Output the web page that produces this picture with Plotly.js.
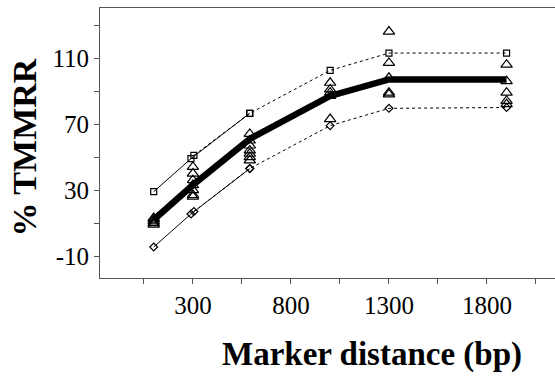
<!DOCTYPE html>
<html><head><meta charset="utf-8">
<script src="https://cdn.plot.ly/plotly-3.0.1.min.js"></script>
<style>html,body{margin:0;padding:0;background:#fff}#chart{width:555px;height:379px}</style>
</head><body><div id="chart"></div>
<script>
// Marker distance (bp)
const meanX = [100, 300, 590, 1000, 1300, 1900];
const meanY = [12, 33, 61, 87, 97, 97];

const upperSolidX = [100, 290, 590];
const upperSolidY = [29, 49, 76.5];
const upperDotX = [305, 590, 1000, 1300, 1900];
const upperDotY = [51, 76.5, 102.5, 113, 113];

const lowerSolidX = [100, 290, 590];
const lowerSolidY = [-4.5, 15.5, 43];
const lowerDotX = [305, 590, 1000, 1300, 1900];
const lowerDotY = [17, 43, 69, 79.5, 80];

const triX = [100,100,100,100,100,
  300,300,300,300,300,300,300,
  590,590,590,590,590,590,590,
  1000,1000,1000,1000,1000,
  1300,1300,1300,1300,1300,
  1900,1900,1900,1900,1900];
const triY = [13,12,11,10,9,
  44,40,36,33,30,27,26,
  64,60,57,54,52,50,48,
  95,91,89,87,73,
  126,107,98,89,88,
  106,96,89,84,82];

const xTickVals = [50, 300, 550, 800, 1050, 1300, 1550, 1800, 2050];
const xTickText = ['', '300', '', '800', '', '1300', '', '1800', ''];
const yTickVals = [-10, 10, 30, 50, 70, 90, 110, 130];
const yTickText = ['-10', '', '30', '', '70', '', '110', ''];

const xTitle = 'Marker distance (bp)';
const yTitle = '% TMMRR';

const serif = 'Liberation Serif, Times New Roman, serif';
const traces = [
  {x: upperSolidX, y: upperSolidY, mode: 'lines+markers', line: {color: '#000', width: 1},
   marker: {symbol: 'square-open', size: 6, color: '#000', line: {width: 1.2}}},
  {x: upperDotX, y: upperDotY, mode: 'lines+markers', line: {color: '#000', width: 1, dash: 'dot'},
   marker: {symbol: 'square-open', size: 6, color: '#000', line: {width: 1.2}}},
  {x: lowerSolidX, y: lowerSolidY, mode: 'lines+markers', line: {color: '#000', width: 1},
   marker: {symbol: 'diamond-open', size: 6, color: '#000', line: {width: 1.2}}},
  {x: lowerDotX, y: lowerDotY, mode: 'lines+markers', line: {color: '#000', width: 1, dash: 'dot'},
   marker: {symbol: 'diamond-open', size: 6, color: '#000', line: {width: 1.2}}},
  {x: meanX, y: meanY, mode: 'lines', line: {color: '#000', width: 6.5}},
  {x: triX, y: triY, mode: 'markers', marker: {symbol: 'triangle-up-open', size: 10, color: '#000', line: {width: 1.2}}}
];

const layout = {
  width: 555, height: 379,
  margin: {l: 100, r: 0, t: 8, b: 101},
  showlegend: false,
  paper_bgcolor: '#fff', plot_bgcolor: '#fff',
  font: {family: serif, color: '#000'},
  xaxis: {
    range: [-174, 2147], tickvals: xTickVals, ticktext: xTickText,
    showgrid: false, zeroline: false, showline: true, mirror: true,
    linecolor: '#555', linewidth: 1, ticks: 'outside', ticklen: 5, tickcolor: '#555',
    tickfont: {family: serif, size: 25, color: '#000'}
  },
  yaxis: {
    range: [-23.3, 140.3], tickvals: yTickVals, ticktext: yTickText,
    showgrid: false, zeroline: false, showline: true, mirror: true,
    linecolor: '#555', linewidth: 1, ticks: 'outside', ticklen: 5, tickcolor: '#555',
    tickfont: {family: serif, size: 25, color: '#000'}
  },
  annotations: [
    {text: '<b>' + xTitle + '</b>', xref: 'paper', yref: 'paper', x: 0.598, y: -0.285,
     xanchor: 'center', yanchor: 'middle', showarrow: false,
     font: {family: serif, size: 33, color: '#000'}},
    {text: '<b>' + yTitle + '</b>', xref: 'paper', yref: 'paper', x: -0.165, y: 0.483,
     xanchor: 'center', yanchor: 'middle', textangle: -90, showarrow: false,
     font: {family: serif, size: 34, color: '#000'}}
  ]
};
Plotly.newPlot('chart', traces, layout, {displayModeBar: false, staticPlot: true});
</script></body></html>
